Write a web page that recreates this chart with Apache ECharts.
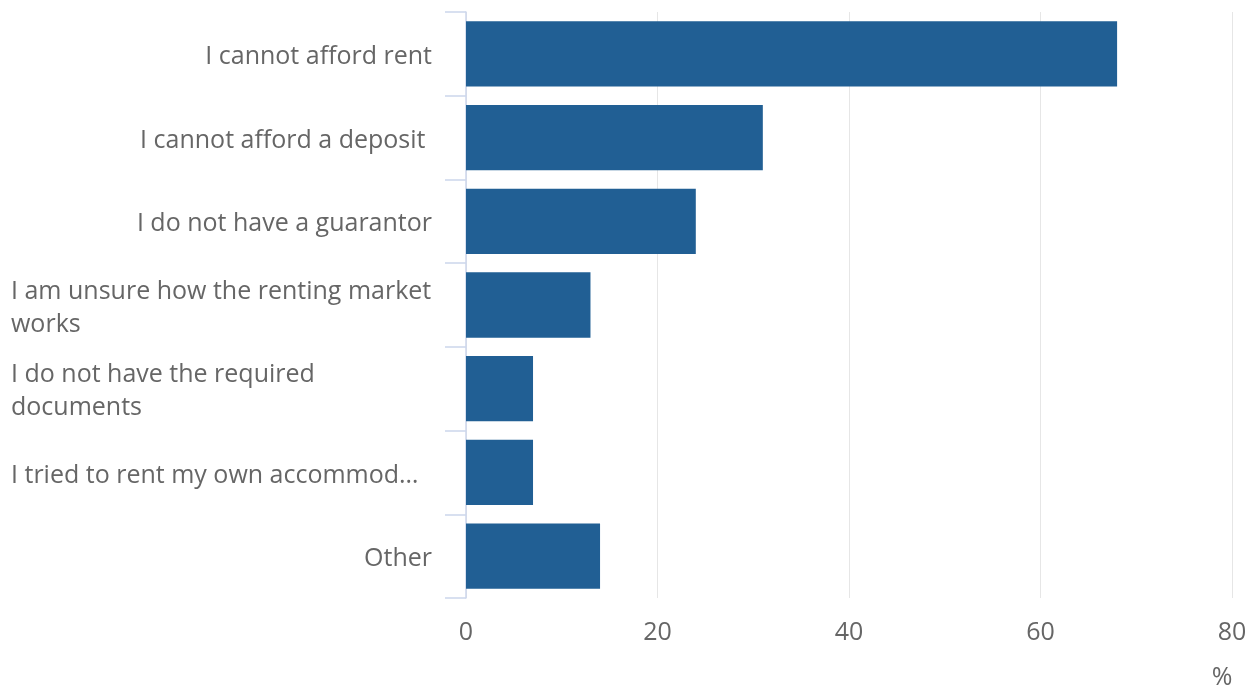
<!DOCTYPE html>
<html><head><meta charset="utf-8">
<script src="https://cdn.jsdelivr.net/npm/echarts@6/dist/echarts.min.js"></script>
<style>html,body{margin:0;padding:0;background:#fff}#c{width:1257px;height:690px}</style>
</head><body><div id="c"></div>
<script>
const categories = [
  "I cannot afford rent",
  "I cannot afford a deposit ",
  "I do not have a guarantor",
  "I am unsure how the renting market works",
  "I do not have the required documents",
  "I tried to rent my own accommod\u2026",
  "Other"
];
const values = [68, 31, 24, 13, 7, 7, 14];
const xTicks = [0, 20, 40, 60, 80];
const axisUnit = "%";

const FONT = "'Open Sans', sans-serif";
const FS = 25;
const LABEL_W = 421;
const cv = document.createElement('canvas').getContext('2d');
cv.font = FS + "px 'Open Sans'";
function wrap(t) {
  const words = t.split(' ');
  const lines = [];
  let cur = '';
  for (const w of words) {
    const test = cur ? cur + ' ' + w : w;
    if (cv.measureText(test).width > LABEL_W && cur) { lines.push(cur); cur = w; }
    else cur = test;
  }
  if (cur) lines.push(cur);
  return lines;
}

const chart = echarts.init(document.getElementById('c'));
chart.setOption({
  animation: false,
  grid: { left: 466, right: 25, top: 12, bottom: 92, containLabel: false },
  xAxis: {
    type: 'value', min: xTicks[0], max: xTicks[xTicks.length - 1], interval: 20,
    name: axisUnit, nameLocation: 'end', nameGap: -10,
    nameTextStyle: { fontFamily: FONT, fontSize: FS, color: '#666666', align: 'center', verticalAlign: 'top', padding: [67, 0, 0, 0] },
    axisLine: { show: false }, axisTick: { show: false },
    axisLabel: { fontFamily: FONT, fontSize: FS, color: '#666666', margin: 22 },
    splitLine: { show: true, lineStyle: { color: '#e6e6e6', width: 1 } }
  },
  yAxis: {
    type: 'category', data: categories, inverse: true,
    axisLine: { show: true, lineStyle: { color: '#ccd6eb', width: 1.5 } },
    axisTick: { show: true, length: 21, lineStyle: { color: '#ccd6eb', width: 1.5 } },
    axisLabel: {
      fontFamily: FONT, fontSize: FS, color: '#666666', margin: 34, lineHeight: 33,
      padding: [6, 0, 0, 0],
      formatter: function (v) {
        const lines = wrap(v);
        if (lines.length === 1 && v.slice(-1) !== '\u2026') return v;
        return '{l|' + lines.join('\n') + '}';
      },
      rich: { l: { width: LABEL_W, align: 'left', fontFamily: FONT, fontSize: FS, color: '#666666', lineHeight: 33 } }
    }
  },
  series: [{
    type: 'bar', data: values, barCategoryGap: '22%',
    itemStyle: { color: '#215f94' }
  }]
});
</script></body></html>
